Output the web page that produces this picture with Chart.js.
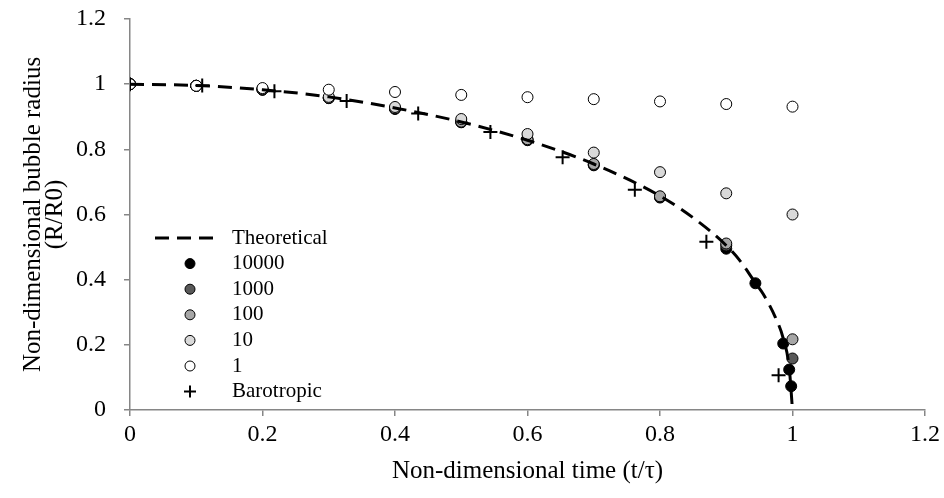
<!DOCTYPE html>
<html>
<head>
<meta charset="utf-8">
<script src="https://cdn.jsdelivr.net/npm/chart.js@4.4.1/dist/chart.umd.min.js"></script>
<style>
  html, body { margin: 0; padding: 0; background: #fff; }
  #wrap { width: 944px; height: 498px; position: relative; }
</style>
</head>
<body>
<div id="wrap"><canvas id="chart" width="944" height="498"></canvas></div>
<script>
// values
var theoT = [0, 0.1, 0.2, 0.3, 0.4, 0.5, 0.6, 0.7, 0.8, 0.85, 0.9, 0.92, 0.944, 0.956, 0.974, 0.986, 0.995, 1.0];
var theoR = [1.0, 0.996, 0.983, 0.961, 0.927, 0.884, 0.828, 0.755, 0.657, 0.59, 0.505, 0.46, 0.39, 0.355, 0.285, 0.22, 0.13, 0.0];

var times = [0, 0.1, 0.2, 0.3, 0.4, 0.5, 0.6, 0.7, 0.8, 0.9, 1.0];
var r1     = [1.0, 0.995, 0.988, 0.983, 0.976, 0.967, 0.960, 0.954, 0.947, 0.939, 0.931];
var r10    = [1.0, 0.995, 0.986, 0.961, 0.930, 0.893, 0.847, 0.790, 0.730, 0.665, 0.600];
var r100   = [1.0, 0.995, 0.984, 0.958, 0.926, 0.885, 0.831, 0.755, 0.656, 0.511, 0.217];
var r1000  = [1.0, 0.995, 0.983, 0.958, 0.925, 0.884, 0.829, 0.753, 0.654, 0.505, 0.158];

var times10000 = [0, 0.1, 0.2, 0.3, 0.4, 0.5, 0.6, 0.7, 0.8, 0.9, 0.944, 0.986, 0.995, 0.998];
var r10000     = [1.0, 0.995, 0.983, 0.957, 0.924, 0.883, 0.828, 0.751, 0.652, 0.495, 0.389, 0.204, 0.124, 0.073];

var baroT = [0, 0.109, 0.218, 0.327, 0.435, 0.544, 0.653, 0.762, 0.870, 0.979];
var baroR = [1.0, 0.996, 0.978, 0.948, 0.910, 0.853, 0.776, 0.676, 0.516, 0.107];

var xTicks = [0, 0.2, 0.4, 0.6, 0.8, 1, 1.2];
var yTicks = [0, 0.2, 0.4, 0.6, 0.8, 1, 1.2];

var FONT = '"Liberation Serif", "Times New Roman", serif';
var AXIS = '#868686';

function pts(xs, ys) {
	return xs.map(function (x, i) { return { x: x, y: ys[i] }; });
}

function circles(label, xs, ys, fill, order) {
	return {
		label: label,
		data: pts(xs, ys),
		showLine: false,
		pointStyle: 'circle',
		pointRadius: 5.5,
		pointBorderWidth: 1,
		pointBackgroundColor: fill,
		pointBorderColor: '#000',
		backgroundColor: fill,
		borderColor: '#000',
		order: order
	};
}

// legend drawn inside the plot, like the original
var insideLegend = {
	id: 'insideLegend',
	afterDraw: function (chart) {
		var ctx = chart.ctx;
		var x0 = 155, sym = 190, tx = 232, y0 = 238, step = 25.6;
		ctx.save();
		ctx.font = '21px ' + FONT;
		ctx.textBaseline = 'middle';
		ctx.fillStyle = '#000';
		chart.data.datasets.forEach(function (ds, i) {
			var y = y0 + i * step;
			if (ds.showLine) {
				ctx.strokeStyle = '#000';
				ctx.lineWidth = 3;
				ctx.setLineDash([14, 8]);
				ctx.beginPath();
				ctx.moveTo(x0, y);
				ctx.lineTo(x0 + 58, y);
				ctx.stroke();
				ctx.setLineDash([]);
			} else if (ds.pointStyle === 'cross') {
				ctx.strokeStyle = '#000';
				ctx.lineWidth = 2;
				ctx.beginPath();
				ctx.moveTo(sym - 6, y); ctx.lineTo(sym + 6, y);
				ctx.moveTo(sym, y - 6); ctx.lineTo(sym, y + 6);
				ctx.stroke();
			} else {
				ctx.beginPath();
				ctx.arc(sym, y, 5, 0, Math.PI * 2);
				ctx.fillStyle = ds.pointBackgroundColor;
				ctx.fill();
				ctx.lineWidth = 1;
				ctx.strokeStyle = '#000';
				ctx.stroke();
				ctx.fillStyle = '#000';
			}
			ctx.fillText(ds.label, tx, y);
		});
		ctx.restore();
	}
};

new Chart(document.getElementById('chart').getContext('2d'), {
	type: 'scatter',
	data: {
		datasets: [
			{
				label: 'Theoretical',
				data: pts(theoT, theoR),
				showLine: true,
				borderColor: '#000',
				borderWidth: 3,
				borderDash: [14, 8],
				pointRadius: 0,
				cubicInterpolationMode: 'monotone',
				fill: false,
				order: 1
			},
			circles('10000', times10000, r10000, '#000000', 6),
			circles('1000', times, r1000, '#595959', 5),
			circles('100', times, r100, '#a6a6a6', 4),
			circles('10', times, r10, '#d9d9d9', 3),
			circles('1', times, r1, '#ffffff', 2),
			{
				label: 'Barotropic',
				data: pts(baroT, baroR),
				showLine: false,
				pointStyle: 'cross',
				pointRadius: 7,
				pointBorderWidth: 2,
				pointBorderColor: '#000',
				borderColor: '#000',
				order: 0
			}
		]
	},
	options: {
		responsive: false,
		animation: false,
		layout: { padding: { top: 19, right: 19, left: 0, bottom: 0 } },
		plugins: {
			legend: { display: false },
			tooltip: { enabled: false }
		},
		scales: {
			x: {
				type: 'linear',
				min: 0,
				max: 1.2,
				afterBuildTicks: function (s) { s.ticks = xTicks.map(function (v) { return { value: v }; }); },
				afterFit: function (s) {
					s.height = 88;
					s.paddingLeft = 0;
					s.paddingRight = 0;
				},
				border: { color: AXIS, width: 1.5 },
				grid: { drawOnChartArea: false, color: AXIS, tickLength: 6, lineWidth: 1.5 },
				ticks: {
					color: '#000',
					font: { family: FONT, size: 24 },
					padding: 4,
					callback: function (v) { return String(+v.toFixed(1)); }
				},
				title: {
					display: true,
					text: 'Non-dimensional time (t/\u03c4)',
					color: '#000',
					font: { family: FONT, size: 25 },
					padding: { top: 2, bottom: 12 }
				}
			},
			y: {
				type: 'linear',
				min: 0,
				max: 1.2,
				afterBuildTicks: function (s) { s.ticks = yTicks.map(function (v) { return { value: v }; }); },
				afterFit: function (s) {
					s.width = 130;
					s.paddingTop = 0;
					s.paddingBottom = 0;
				},
				border: { color: AXIS, width: 1.5 },
				grid: { drawOnChartArea: false, color: AXIS, tickLength: 6, lineWidth: 1.5 },
				ticks: {
					color: '#000',
					font: { family: FONT, size: 24 },
					padding: 18,
					callback: function (v) { return String(+v.toFixed(1)); }
				},
				title: {
					display: true,
					text: ['Non-dimensional bubble radius', '(R/R0)'],
					color: '#000',
					font: { family: FONT, size: 25, lineHeight: 0.9 },
					padding: { top: 22, bottom: 0 }
				}
			}
		}
	},
	plugins: [insideLegend]
});
</script>
</body>
</html>
